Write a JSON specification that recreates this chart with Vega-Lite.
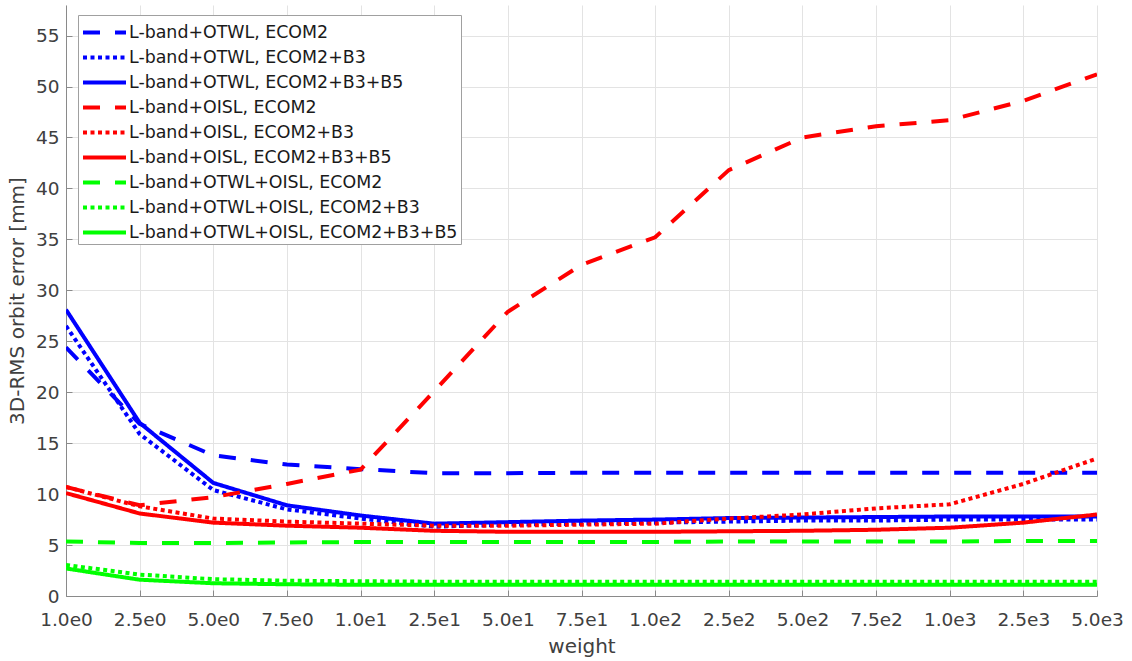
{
  "$schema": "https://vega.github.io/schema/vega-lite/v6.json",
  "width": 1031,
  "height": 591,
  "autosize": {"type": "none"},
  "padding": {"left": 66, "top": 5, "right": 35, "bottom": 65},
  "background": "white",
  "config": {"view": {"stroke": null}, "font": "DejaVu Sans"},
  "datasets": {
    "d": [
      {"weight": "1.0e0", "series": "L-band+OTWL, ECOM2", "error": 24.4},
      {"weight": "2.5e0", "series": "L-band+OTWL, ECOM2", "error": 16.9},
      {"weight": "5.0e0", "series": "L-band+OTWL, ECOM2", "error": 13.8},
      {"weight": "7.5e0", "series": "L-band+OTWL, ECOM2", "error": 12.9},
      {"weight": "1.0e1", "series": "L-band+OTWL, ECOM2", "error": 12.45},
      {"weight": "2.5e1", "series": "L-band+OTWL, ECOM2", "error": 12.05},
      {"weight": "5.0e1", "series": "L-band+OTWL, ECOM2", "error": 12.05},
      {"weight": "7.5e1", "series": "L-band+OTWL, ECOM2", "error": 12.1},
      {"weight": "1.0e2", "series": "L-band+OTWL, ECOM2", "error": 12.1},
      {"weight": "2.5e2", "series": "L-band+OTWL, ECOM2", "error": 12.1},
      {"weight": "5.0e2", "series": "L-band+OTWL, ECOM2", "error": 12.1},
      {"weight": "7.5e2", "series": "L-band+OTWL, ECOM2", "error": 12.1},
      {"weight": "1.0e3", "series": "L-band+OTWL, ECOM2", "error": 12.1},
      {"weight": "2.5e3", "series": "L-band+OTWL, ECOM2", "error": 12.1},
      {"weight": "5.0e3", "series": "L-band+OTWL, ECOM2", "error": 12.1},

      {"weight": "1.0e0", "series": "L-band+OTWL, ECOM2+B3", "error": 26.5},
      {"weight": "2.5e0", "series": "L-band+OTWL, ECOM2+B3", "error": 15.9},
      {"weight": "5.0e0", "series": "L-band+OTWL, ECOM2+B3", "error": 10.4},
      {"weight": "7.5e0", "series": "L-band+OTWL, ECOM2+B3", "error": 8.5},
      {"weight": "1.0e1", "series": "L-band+OTWL, ECOM2+B3", "error": 7.6},
      {"weight": "2.5e1", "series": "L-band+OTWL, ECOM2+B3", "error": 6.8},
      {"weight": "5.0e1", "series": "L-band+OTWL, ECOM2+B3", "error": 7.0},
      {"weight": "7.5e1", "series": "L-band+OTWL, ECOM2+B3", "error": 7.1},
      {"weight": "1.0e2", "series": "L-band+OTWL, ECOM2+B3", "error": 7.2},
      {"weight": "2.5e2", "series": "L-band+OTWL, ECOM2+B3", "error": 7.3},
      {"weight": "5.0e2", "series": "L-band+OTWL, ECOM2+B3", "error": 7.4},
      {"weight": "7.5e2", "series": "L-band+OTWL, ECOM2+B3", "error": 7.4},
      {"weight": "1.0e3", "series": "L-band+OTWL, ECOM2+B3", "error": 7.5},
      {"weight": "2.5e3", "series": "L-band+OTWL, ECOM2+B3", "error": 7.5},
      {"weight": "5.0e3", "series": "L-band+OTWL, ECOM2+B3", "error": 7.5},

      {"weight": "1.0e0", "series": "L-band+OTWL, ECOM2+B3+B5", "error": 28.1},
      {"weight": "2.5e0", "series": "L-band+OTWL, ECOM2+B3+B5", "error": 17.0},
      {"weight": "5.0e0", "series": "L-band+OTWL, ECOM2+B3+B5", "error": 11.1},
      {"weight": "7.5e0", "series": "L-band+OTWL, ECOM2+B3+B5", "error": 8.9},
      {"weight": "1.0e1", "series": "L-band+OTWL, ECOM2+B3+B5", "error": 7.9},
      {"weight": "2.5e1", "series": "L-band+OTWL, ECOM2+B3+B5", "error": 7.1},
      {"weight": "5.0e1", "series": "L-band+OTWL, ECOM2+B3+B5", "error": 7.25},
      {"weight": "7.5e1", "series": "L-band+OTWL, ECOM2+B3+B5", "error": 7.4},
      {"weight": "1.0e2", "series": "L-band+OTWL, ECOM2+B3+B5", "error": 7.5},
      {"weight": "2.5e2", "series": "L-band+OTWL, ECOM2+B3+B5", "error": 7.65},
      {"weight": "5.0e2", "series": "L-band+OTWL, ECOM2+B3+B5", "error": 7.7},
      {"weight": "7.5e2", "series": "L-band+OTWL, ECOM2+B3+B5", "error": 7.75},
      {"weight": "1.0e3", "series": "L-band+OTWL, ECOM2+B3+B5", "error": 7.8},
      {"weight": "2.5e3", "series": "L-band+OTWL, ECOM2+B3+B5", "error": 7.8},
      {"weight": "5.0e3", "series": "L-band+OTWL, ECOM2+B3+B5", "error": 7.8},

      {"weight": "1.0e0", "series": "L-band+OISL, ECOM2", "error": 10.7},
      {"weight": "2.5e0", "series": "L-band+OISL, ECOM2", "error": 8.9},
      {"weight": "5.0e0", "series": "L-band+OISL, ECOM2", "error": 9.7},
      {"weight": "7.5e0", "series": "L-band+OISL, ECOM2", "error": 11.0},
      {"weight": "1.0e1", "series": "L-band+OISL, ECOM2", "error": 12.4},
      {"weight": "2.5e1", "series": "L-band+OISL, ECOM2", "error": 20.1},
      {"weight": "5.0e1", "series": "L-band+OISL, ECOM2", "error": 27.9},
      {"weight": "7.5e1", "series": "L-band+OISL, ECOM2", "error": 32.5},
      {"weight": "1.0e2", "series": "L-band+OISL, ECOM2", "error": 35.2},
      {"weight": "2.5e2", "series": "L-band+OISL, ECOM2", "error": 41.8},
      {"weight": "5.0e2", "series": "L-band+OISL, ECOM2", "error": 45.0},
      {"weight": "7.5e2", "series": "L-band+OISL, ECOM2", "error": 46.1},
      {"weight": "1.0e3", "series": "L-band+OISL, ECOM2", "error": 46.7},
      {"weight": "2.5e3", "series": "L-band+OISL, ECOM2", "error": 48.6},
      {"weight": "5.0e3", "series": "L-band+OISL, ECOM2", "error": 51.2},

      {"weight": "1.0e0", "series": "L-band+OISL, ECOM2+B3", "error": 10.7},
      {"weight": "2.5e0", "series": "L-band+OISL, ECOM2+B3", "error": 8.8},
      {"weight": "5.0e0", "series": "L-band+OISL, ECOM2+B3", "error": 7.6},
      {"weight": "7.5e0", "series": "L-band+OISL, ECOM2+B3", "error": 7.3},
      {"weight": "1.0e1", "series": "L-band+OISL, ECOM2+B3", "error": 7.1},
      {"weight": "2.5e1", "series": "L-band+OISL, ECOM2+B3", "error": 6.9},
      {"weight": "5.0e1", "series": "L-band+OISL, ECOM2+B3", "error": 6.9},
      {"weight": "7.5e1", "series": "L-band+OISL, ECOM2+B3", "error": 7.0},
      {"weight": "1.0e2", "series": "L-band+OISL, ECOM2+B3", "error": 7.1},
      {"weight": "2.5e2", "series": "L-band+OISL, ECOM2+B3", "error": 7.6},
      {"weight": "5.0e2", "series": "L-band+OISL, ECOM2+B3", "error": 8.0},
      {"weight": "7.5e2", "series": "L-band+OISL, ECOM2+B3", "error": 8.6},
      {"weight": "1.0e3", "series": "L-band+OISL, ECOM2+B3", "error": 9.0},
      {"weight": "2.5e3", "series": "L-band+OISL, ECOM2+B3", "error": 11.0},
      {"weight": "5.0e3", "series": "L-band+OISL, ECOM2+B3", "error": 13.5},

      {"weight": "1.0e0", "series": "L-band+OISL, ECOM2+B3+B5", "error": 10.1},
      {"weight": "2.5e0", "series": "L-band+OISL, ECOM2+B3+B5", "error": 8.1},
      {"weight": "5.0e0", "series": "L-band+OISL, ECOM2+B3+B5", "error": 7.2},
      {"weight": "7.5e0", "series": "L-band+OISL, ECOM2+B3+B5", "error": 6.9},
      {"weight": "1.0e1", "series": "L-band+OISL, ECOM2+B3+B5", "error": 6.7},
      {"weight": "2.5e1", "series": "L-band+OISL, ECOM2+B3+B5", "error": 6.4},
      {"weight": "5.0e1", "series": "L-band+OISL, ECOM2+B3+B5", "error": 6.3},
      {"weight": "7.5e1", "series": "L-band+OISL, ECOM2+B3+B5", "error": 6.3},
      {"weight": "1.0e2", "series": "L-band+OISL, ECOM2+B3+B5", "error": 6.3},
      {"weight": "2.5e2", "series": "L-band+OISL, ECOM2+B3+B5", "error": 6.35},
      {"weight": "5.0e2", "series": "L-band+OISL, ECOM2+B3+B5", "error": 6.4},
      {"weight": "7.5e2", "series": "L-band+OISL, ECOM2+B3+B5", "error": 6.5},
      {"weight": "1.0e3", "series": "L-band+OISL, ECOM2+B3+B5", "error": 6.7},
      {"weight": "2.5e3", "series": "L-band+OISL, ECOM2+B3+B5", "error": 7.2},
      {"weight": "5.0e3", "series": "L-band+OISL, ECOM2+B3+B5", "error": 8.0},

      {"weight": "1.0e0", "series": "L-band+OTWL+OISL, ECOM2", "error": 5.35},
      {"weight": "2.5e0", "series": "L-band+OTWL+OISL, ECOM2", "error": 5.2},
      {"weight": "5.0e0", "series": "L-band+OTWL+OISL, ECOM2", "error": 5.2},
      {"weight": "7.5e0", "series": "L-band+OTWL+OISL, ECOM2", "error": 5.25},
      {"weight": "1.0e1", "series": "L-band+OTWL+OISL, ECOM2", "error": 5.3},
      {"weight": "2.5e1", "series": "L-band+OTWL+OISL, ECOM2", "error": 5.3},
      {"weight": "5.0e1", "series": "L-band+OTWL+OISL, ECOM2", "error": 5.3},
      {"weight": "7.5e1", "series": "L-band+OTWL+OISL, ECOM2", "error": 5.3},
      {"weight": "1.0e2", "series": "L-band+OTWL+OISL, ECOM2", "error": 5.3},
      {"weight": "2.5e2", "series": "L-band+OTWL+OISL, ECOM2", "error": 5.35},
      {"weight": "5.0e2", "series": "L-band+OTWL+OISL, ECOM2", "error": 5.35},
      {"weight": "7.5e2", "series": "L-band+OTWL+OISL, ECOM2", "error": 5.35},
      {"weight": "1.0e3", "series": "L-band+OTWL+OISL, ECOM2", "error": 5.35},
      {"weight": "2.5e3", "series": "L-band+OTWL+OISL, ECOM2", "error": 5.4},
      {"weight": "5.0e3", "series": "L-band+OTWL+OISL, ECOM2", "error": 5.4},

      {"weight": "1.0e0", "series": "L-band+OTWL+OISL, ECOM2+B3", "error": 3.05},
      {"weight": "2.5e0", "series": "L-band+OTWL+OISL, ECOM2+B3", "error": 2.1},
      {"weight": "5.0e0", "series": "L-band+OTWL+OISL, ECOM2+B3", "error": 1.65},
      {"weight": "7.5e0", "series": "L-band+OTWL+OISL, ECOM2+B3", "error": 1.5},
      {"weight": "1.0e1", "series": "L-band+OTWL+OISL, ECOM2+B3", "error": 1.45},
      {"weight": "2.5e1", "series": "L-band+OTWL+OISL, ECOM2+B3", "error": 1.4},
      {"weight": "5.0e1", "series": "L-band+OTWL+OISL, ECOM2+B3", "error": 1.4},
      {"weight": "7.5e1", "series": "L-band+OTWL+OISL, ECOM2+B3", "error": 1.4},
      {"weight": "1.0e2", "series": "L-band+OTWL+OISL, ECOM2+B3", "error": 1.4},
      {"weight": "2.5e2", "series": "L-band+OTWL+OISL, ECOM2+B3", "error": 1.4},
      {"weight": "5.0e2", "series": "L-band+OTWL+OISL, ECOM2+B3", "error": 1.4},
      {"weight": "7.5e2", "series": "L-band+OTWL+OISL, ECOM2+B3", "error": 1.4},
      {"weight": "1.0e3", "series": "L-band+OTWL+OISL, ECOM2+B3", "error": 1.4},
      {"weight": "2.5e3", "series": "L-band+OTWL+OISL, ECOM2+B3", "error": 1.4},
      {"weight": "5.0e3", "series": "L-band+OTWL+OISL, ECOM2+B3", "error": 1.4},

      {"weight": "1.0e0", "series": "L-band+OTWL+OISL, ECOM2+B3+B5", "error": 2.7},
      {"weight": "2.5e0", "series": "L-band+OTWL+OISL, ECOM2+B3+B5", "error": 1.6},
      {"weight": "5.0e0", "series": "L-band+OTWL+OISL, ECOM2+B3+B5", "error": 1.25},
      {"weight": "7.5e0", "series": "L-band+OTWL+OISL, ECOM2+B3+B5", "error": 1.15},
      {"weight": "1.0e1", "series": "L-band+OTWL+OISL, ECOM2+B3+B5", "error": 1.1},
      {"weight": "2.5e1", "series": "L-band+OTWL+OISL, ECOM2+B3+B5", "error": 1.1},
      {"weight": "5.0e1", "series": "L-band+OTWL+OISL, ECOM2+B3+B5", "error": 1.1},
      {"weight": "7.5e1", "series": "L-band+OTWL+OISL, ECOM2+B3+B5", "error": 1.1},
      {"weight": "1.0e2", "series": "L-band+OTWL+OISL, ECOM2+B3+B5", "error": 1.1},
      {"weight": "2.5e2", "series": "L-band+OTWL+OISL, ECOM2+B3+B5", "error": 1.1},
      {"weight": "5.0e2", "series": "L-band+OTWL+OISL, ECOM2+B3+B5", "error": 1.1},
      {"weight": "7.5e2", "series": "L-band+OTWL+OISL, ECOM2+B3+B5", "error": 1.1},
      {"weight": "1.0e3", "series": "L-band+OTWL+OISL, ECOM2+B3+B5", "error": 1.1},
      {"weight": "2.5e3", "series": "L-band+OTWL+OISL, ECOM2+B3+B5", "error": 1.1},
      {"weight": "5.0e3", "series": "L-band+OTWL+OISL, ECOM2+B3+B5", "error": 1.1}
    ]
  },
  "data": {"name": "d"},
  "mark": {"type": "line", "strokeWidth": 4, "strokeCap": "butt", "clip": true},
  "encoding": {
    "x": {
      "field": "weight",
      "type": "ordinal",
      "sort": ["1.0e0", "2.5e0", "5.0e0", "7.5e0", "1.0e1", "2.5e1", "5.0e1", "7.5e1", "1.0e2", "2.5e2", "5.0e2", "7.5e2", "1.0e3", "2.5e3", "5.0e3"],
      "scale": {"type": "point", "padding": 0},
      "axis": {
        "title": "weight",
        "labelAngle": 0,
        "labelFont": "DejaVu Sans",
        "labelFontSize": 18.5,
        "labelColor": "#404040",
        "labelPadding": 20,
        "tickSize": -6,
        "tickColor": "#8a8a8a",
        "domainColor": "#8a8a8a",
        "grid": true,
        "gridColor": "#e3e3e3",
        "titleFont": "DejaVu Sans",
        "titleFontSize": 20,
        "titleFontWeight": "normal",
        "titleColor": "#404040",
        "titlePadding": 8
      }
    },
    "y": {
      "field": "error",
      "type": "quantitative",
      "scale": {"domain": [0, 58], "nice": false, "zero": true},
      "axis": {
        "title": "3D-RMS orbit error [mm]",
        "values": [0, 5, 10, 15, 20, 25, 30, 35, 40, 45, 50, 55],
        "labelFont": "DejaVu Sans",
        "labelFontSize": 18.5,
        "labelColor": "#404040",
        "labelPadding": 13,
        "tickSize": -6,
        "tickColor": "#8a8a8a",
        "domainColor": "#8a8a8a",
        "grid": true,
        "gridColor": "#e3e3e3",
        "titleFont": "DejaVu Sans",
        "titleFontSize": 20,
        "titleFontWeight": "normal",
        "titleColor": "#404040",
        "titlePadding": 8
      }
    },
    "color": {
      "field": "series",
      "type": "nominal",
      "scale": {
        "domain": ["L-band+OTWL, ECOM2", "L-band+OTWL, ECOM2+B3", "L-band+OTWL, ECOM2+B3+B5", "L-band+OISL, ECOM2", "L-band+OISL, ECOM2+B3", "L-band+OISL, ECOM2+B3+B5", "L-band+OTWL+OISL, ECOM2", "L-band+OTWL+OISL, ECOM2+B3", "L-band+OTWL+OISL, ECOM2+B3+B5"],
        "range": ["#0000ff", "#0000ff", "#0000ff", "#ff0000", "#ff0000", "#ff0000", "#00ff00", "#00ff00", "#00ff00"]
      },
      "legend": {
        "title": null,
        "orient": "none",
        "legendX": 12,
        "legendY": 10,
        "fillColor": "white",
        "strokeColor": "#a0a0a0",
        "padding": 3,
        "symbolType": "M-1,0H2.44",
        "symbolSize": 625,
        "symbolStrokeWidth": 4,
        "labelFont": "DejaVu Sans",
        "labelFontSize": 17.4,
        "labelColor": "#1a1a1a",
        "labelOffset": 19,
        "labelLimit": 0,
        "rowPadding": 2
      }
    },
    "strokeDash": {
      "field": "series",
      "type": "nominal",
      "scale": {
        "domain": ["L-band+OTWL, ECOM2", "L-band+OTWL, ECOM2+B3", "L-band+OTWL, ECOM2+B3+B5", "L-band+OISL, ECOM2", "L-band+OISL, ECOM2+B3", "L-band+OISL, ECOM2+B3+B5", "L-band+OTWL+OISL, ECOM2", "L-band+OTWL+OISL, ECOM2+B3", "L-band+OTWL+OISL, ECOM2+B3+B5"],
        "range": [[17, 15], [4, 3.5], [1, 0], [17, 15], [4, 3.5], [1, 0], [17, 15], [4, 3.5], [1, 0]]
      },
      "legend": {
        "title": null,
        "orient": "none",
        "legendX": 12,
        "legendY": 10,
        "fillColor": "white",
        "strokeColor": "#a0a0a0",
        "padding": 3,
        "symbolType": "M-1,0H2.44",
        "symbolSize": 625,
        "symbolStrokeWidth": 4,
        "labelFont": "DejaVu Sans",
        "labelFontSize": 17.4,
        "labelColor": "#1a1a1a",
        "labelOffset": 19,
        "labelLimit": 0,
        "rowPadding": 2
      }
    }
  }
}
